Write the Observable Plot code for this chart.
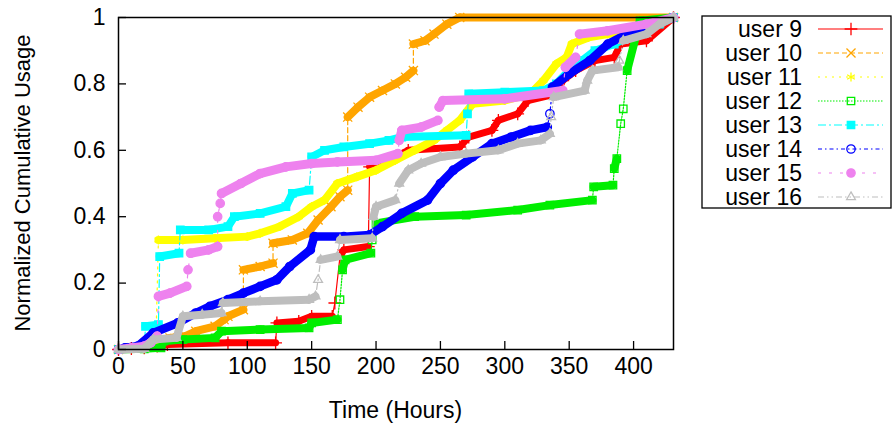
<!DOCTYPE html>
<html><head><meta charset="utf-8">
<script src="https://cdn.jsdelivr.net/npm/d3@7"></script>
<script src="https://cdn.jsdelivr.net/npm/@observablehq/plot@0.6"></script>
<style>
body{margin:0;background:#fff;font-family:"Liberation Sans",Arial,sans-serif;}
#wrap{position:relative;width:896px;height:427px;overflow:hidden;}
.lbl{position:absolute;font-size:23px;color:#000;white-space:nowrap;line-height:1;}
</style></head><body><div id="wrap"></div>
<script>
const seriesNames = ["user 9","user 10","user 11","user 12","user 13","user 14","user 15","user 16"];
const xTicks = [0,50,100,150,200,250,300,350,400];
const yTicks = [0,0.2,0.4,0.6,0.8,1];

const user9 = [[0,0],[10,0.003],[20,0.005],[30,0.01],[38,0.015],[85,0.02],[122,0.02],[123,0.08],[140,0.085],[150,0.10],[166,0.10],[168,0.14],[172,0.28],[175,0.30],[194,0.31],[195,0.55],[210,0.57],[225,0.60],[265,0.61],[272,0.64],[290,0.66],[295,0.69],[310,0.71],[318,0.75],[340,0.77],[345,0.81],[355,0.84],[370,0.87],[385,0.88],[390,0.92],[410,0.93],[431,1]];
const user10 = [[0,0],[10,0.005],[20,0.01],[30,0.025],[40,0.035],[52,0.04],[60,0.055],[75,0.07],[82,0.09],[85,0.10],[97,0.12],[97,0.24],[110,0.25],[120,0.26],[120,0.32],[135,0.33],[147,0.35],[155,0.39],[165,0.43],[172,0.46],[178,0.48],[178,0.70],[186,0.73],[195,0.76],[205,0.78],[215,0.80],[223,0.82],[229,0.84],[229,0.92],[238,0.93],[245,0.95],[255,0.98],[265,1],[431,1]];
const user11 = [[0,0],[10,0.005],[20,0.01],[29,0.02],[31,0.33],[50,0.33],[75,0.335],[100,0.34],[110,0.35],[125,0.37],[140,0.40],[150,0.43],[160,0.45],[170,0.50],[185,0.52],[200,0.54],[215,0.57],[230,0.60],[245,0.63],[255,0.66],[265,0.69],[275,0.74],[300,0.75],[320,0.77],[330,0.81],[340,0.86],[348,0.88],[352,0.92],[365,0.94],[380,0.95],[395,0.96],[420,0.99],[431,1]];
const user12 = [[0,0],[20,0.002],[33,0.005],[35,0.025],[50,0.03],[75,0.035],[80,0.055],[110,0.06],[148,0.065],[150,0.08],[170,0.09],[172,0.15],[174,0.24],[176,0.27],[196,0.29],[197,0.33],[200,0.38],[230,0.40],[270,0.405],[310,0.42],[335,0.435],[368,0.45],[369,0.49],[384,0.495],[385,0.545],[387,0.575],[390,0.68],[392,0.725],[395,0.84],[405,0.99],[431,1]];
const user13 = [[0,0],[10,0.005],[20,0.01],[21,0.07],[31,0.075],[32,0.28],[47,0.29],[48,0.36],[70,0.36],[85,0.37],[90,0.40],[110,0.41],[130,0.43],[135,0.47],[148,0.48],[150,0.58],[160,0.60],[175,0.61],[195,0.62],[210,0.63],[220,0.64],[270,0.645],[271,0.71],[272,0.77],[300,0.775],[330,0.78],[340,0.80],[350,0.84],[360,0.87],[370,0.90],[385,0.92],[400,0.95],[420,0.98],[431,1]];
const user14 = [[0,0],[5,0.005],[15,0.01],[27,0.05],[46,0.08],[60,0.11],[71,0.13],[85,0.15],[97,0.17],[110,0.19],[123,0.21],[133,0.25],[149,0.30],[152,0.34],[175,0.34],[195,0.345],[205,0.37],[220,0.41],[240,0.45],[250,0.50],[260,0.54],[275,0.58],[290,0.62],[305,0.64],[320,0.66],[333,0.67],[335,0.71],[337,0.79],[350,0.83],[366,0.87],[380,0.92],[395,0.95],[415,0.98],[431,1]];
const user15 = [[0,0],[10,0.005],[20,0.01],[25,0.02],[30,0.04],[31,0.16],[40,0.17],[53,0.19],[54,0.24],[56,0.29],[70,0.30],[77,0.31],[77,0.40],[79,0.44],[80,0.47],[95,0.50],[110,0.53],[130,0.55],[150,0.56],[170,0.565],[200,0.57],[217,0.59],[218,0.63],[220,0.66],[235,0.67],[248,0.69],[249,0.73],[252,0.75],[300,0.755],[345,0.78],[347,0.85],[355,0.88],[358,0.95],[380,0.96],[410,0.98],[431,1]];
const user16 = [[0,0],[20,0.002],[27,0.03],[45,0.035],[50,0.10],[65,0.105],[80,0.11],[81,0.14],[110,0.145],[148,0.15],[153,0.16],[155,0.21],[157,0.27],[170,0.28],[172,0.33],[197,0.335],[198,0.40],[200,0.43],[215,0.45],[218,0.50],[225,0.54],[235,0.56],[250,0.58],[270,0.59],[295,0.60],[310,0.62],[328,0.63],[335,0.65],[336,0.70],[338,0.76],[362,0.78],[364,0.81],[368,0.84],[388,0.85],[389,0.87],[392,0.93],[410,0.95],[420,0.98],[431,1]];

const seriesData = [user9,user10,user11,user12,user13,user14,user15,user16];
const colors = ["#ff0000","#ffa500","#ffff00","#00ee00","#00ffff","#0000ff","#ee82ee","#bebebe"];
const dashes = [null,"5,3","2,5","1.5,1.5","8,3,2,3","4,3,1.5,3","3,8","6,3,1.5,3,1.5,3"];
const symbols = ["plus","times","asterisk","square","square","circle","circle","triangle2"];
const filled = [false,false,false,false,true,false,true,false];
const bands = [7,8,8,8,8,8.5,9,8];

const W = 896, H = 427, mL = 118, mR = 223, mT = 17, mB = 78;
const xMax = 431;
const kx = (W - mL - mR) / xMax, ky = (H - mT - mB);
const tickLen = 8;

const marks = [];
seriesData.forEach((data, i) => {
  const pts = data.map(([x, y]) => ({x, y}));
  const segs = d3.pairs(pts).map(([a, b]) => ({x1: a.x, y1: a.y, x2: b.x, y2: b.y}));
  const steep = d => {
    const dxp = (d.x2 - d.x1) * kx, dyp = Math.abs(d.y2 - d.y1) * ky;
    return dyp > 6 && dyp > 4 * dxp;
  };
  marks.push(Plot.line(pts, {x: "x", y: "y", stroke: colors[i], strokeWidth: 1.2, strokeDasharray: dashes[i]}));
  marks.push(Plot.link(segs.filter(d => !steep(d)), {x1: "x1", y1: "y1", x2: "x2", y2: "y2", stroke: colors[i], strokeWidth: bands[i], strokeLinecap: "round"}));
  marks.push(Plot.dot(pts, {x: "x", y: "y", symbol: () => symbols[i], r: 4.2,
    stroke: colors[i], fill: filled[i] ? colors[i] : "none", strokeWidth: 1.3}));
});

const chart = Plot.plot({
  width: W, height: H,
  marginLeft: mL, marginRight: mR, marginTop: mT, marginBottom: mB,
  style: {fontFamily: '"Liberation Sans", Arial, sans-serif', fontSize: "23px", background: "white", overflow: "visible"},
  x: {domain: [0, xMax]},
  y: {domain: [0, 1]},
  marks: [
    ...marks,
    Plot.frame({stroke: "#000", strokeWidth: 1.5}),
    Plot.ruleX(xTicks, {x: d => d, y1: 0, y2: tickLen / ky, stroke: "#000", strokeWidth: 1.3}),
    Plot.ruleY(yTicks, {y: d => d, x1: 0, x2: tickLen / kx, stroke: "#000", strokeWidth: 1.3}),
    Plot.axisX({ticks: xTicks, tickSize: 0, tickPadding: 8, label: null, fontSize: 23, tickFormat: d => String(d)}),
    Plot.axisY({ticks: yTicks, tickSize: 0, tickPadding: 13, label: null, fontSize: 23, tickFormat: d => String(d)})
  ]
});
chart.style.position = "absolute"; chart.style.left = "0px"; chart.style.top = "0px";
const wrap = document.getElementById("wrap");
wrap.appendChild(chart);

const xl = document.createElement("div");
xl.className = "lbl"; xl.textContent = "Time (Hours)";
xl.style.left = (mL + (W - mL - mR) / 2) + "px"; xl.style.top = "399px"; xl.style.transform = "translateX(-50%)";
wrap.appendChild(xl);
const yl = document.createElement("div");
yl.className = "lbl"; yl.textContent = "Normalized Cumulative Usage";
yl.style.fontSize = "22px";
yl.style.left = "23px"; yl.style.top = (mT + (H - mT - mB) / 2) + "px";
yl.style.transform = "translate(-50%,-50%) rotate(-90deg)";
wrap.appendChild(yl);

// legend
const lg = d3.select(wrap).append("svg")
  .attr("width", 192).attr("height", 195)
  .style("position", "absolute").style("left", "701px").style("top", "15px");
lg.append("rect").attr("x", 1).attr("y", 1).attr("width", 189).attr("height", 192)
  .attr("fill", "white").attr("stroke", "#000").attr("stroke-width", 1.3);
const d3sym = {plus: d3.symbolPlus, times: d3.symbolTimes, asterisk: d3.symbolAsterisk, square: d3.symbolSquare, circle: d3.symbolCircle, triangle2: d3.symbolTriangle2};
seriesNames.forEach((n, i) => {
  const yy = 14 + 24 * i;
  lg.append("text").attr("x", 101).attr("y", yy + 8).attr("text-anchor", "end")
    .attr("font-family", '"Liberation Sans", Arial, sans-serif').attr("font-size", 23).text(n);
  lg.append("line").attr("x1", 117).attr("x2", 182).attr("y1", yy).attr("y2", yy)
    .attr("stroke", colors[i]).attr("stroke-width", 1.2).attr("stroke-dasharray", dashes[i]);
  lg.append("path").attr("transform", `translate(150,${yy})`)
    .attr("d", d3.symbol(d3sym[symbols[i]], 55)())
    .attr("stroke", colors[i]).attr("fill", filled[i] ? colors[i] : "none").attr("stroke-width", 1.3);
});
</script></body></html>
